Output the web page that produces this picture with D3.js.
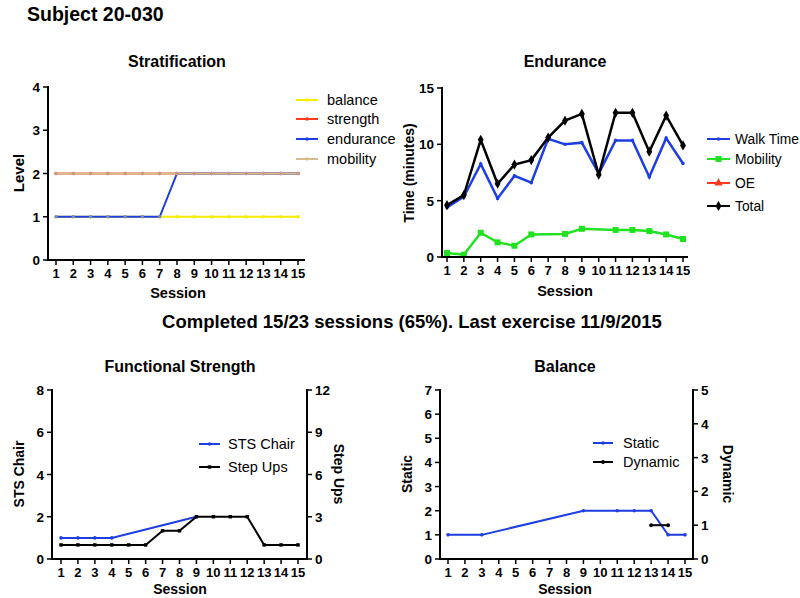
<!DOCTYPE html>
<html><head><meta charset="utf-8">
<script src="https://cdn.jsdelivr.net/npm/d3@7"></script>
<style>body{margin:0;background:#fff}svg{display:block;font-family:"Liberation Sans",Arial,sans-serif}</style>
</head><body><svg id="c" width="800" height="598"></svg>
<script>
const sessions = d3.range(1, 16);
// Stratification levels
const stratBalance   = [1,1,1,1,1,1,1,1,1,1,1,1,1,1,1];
const stratStrength  = [2,2,2,2,2,2,2,2,2,2,2,2,2,2,2];
const stratEndurance = [1,1,1,1,1,1,1,2,2,2,2,2,2,2,2];
const stratMobility  = [2,2,2,2,2,2,2,2,2,2,2,2,2,2,2];
// Endurance (minutes)
const walkTime = [4.4,5.35,8.25,5.2,7.2,6.6,10.5,10.0,10.15,7.4,10.35,10.35,7.1,10.55,8.3];
const mobilityTime = [0.35,0.2,2.15,1.3,1.0,2.0,null,2.05,2.5,null,2.4,2.4,2.3,2.0,1.6];
const oeTime = [null,null,null,null,null,null,null,null,null,null,null,null,null,null,null];
const totalTime = [4.6,5.5,10.4,6.5,8.2,8.6,10.6,12.1,12.7,7.3,12.8,12.8,9.35,12.55,9.9];
// Functional strength
const stsChair = [1,1,1,1,null,null,null,null,2,null,null,null,null,null,null];
const stepUps  = [1,1,1,1,1,1,2,2,3,3,3,3,1,1,1];
// Balance
const staticBal  = [1,null,1,null,null,null,null,null,2,null,2,2,2,1,1];
const dynamicBal = [null,null,null,null,null,null,null,null,null,null,null,null,1,1,null];

const svg = d3.select("#c");
const txt = (x,y,s,size,weight,anchor,rot) => {
  const t = svg.append("text").attr("x",x).attr("y",y).text(s)
    .attr("font-size",size).attr("font-weight",weight||"normal")
    .attr("text-anchor",anchor||"start").attr("fill","#000");
  if (rot) t.attr("transform",`rotate(${rot},${x},${y})`);
  return t;
};

txt(27,21,"Subject 20-030",19.5,"bold");
txt(412,328,"Completed 15/23 sessions (65%). Last exercise 11/9/2015",18.5,"bold","middle");

function xAxis(x, yBot, axLeft, axRight){
  const g = svg.append("g");
  g.append("line").attr("x1",axLeft).attr("x2",axRight).attr("y1",yBot).attr("y2",yBot).attr("stroke","#000").attr("stroke-width",2);
  sessions.forEach(s=>{
    g.append("line").attr("x1",x(s)).attr("x2",x(s)).attr("y1",yBot).attr("y2",yBot+5).attr("stroke","#000").attr("stroke-width",1.5);
    g.append("text").attr("x",x(s)).attr("y",yBot+18).attr("text-anchor","middle").attr("font-size",13).attr("font-weight","bold").text(s);
  });
}
function yAxis(y, ax, ticks, yTop, yBot, right){
  const g = svg.append("g");
  g.append("line").attr("x1",ax).attr("x2",ax).attr("y1",yTop-1).attr("y2",yBot+1).attr("stroke","#000").attr("stroke-width",2);
  ticks.forEach(v=>{
    const d = right?5:-5;
    g.append("line").attr("x1",ax).attr("x2",ax+d).attr("y1",y(v)).attr("y2",y(v)).attr("stroke","#000").attr("stroke-width",1.5);
    g.append("text").attr("x",ax+(right?8:-8)).attr("y",y(v)+5).attr("text-anchor",right?"start":"end")
      .attr("font-size",13.5).attr("font-weight","bold").text(v);
  });
}
function series(x,y,vals,color,width,marker,msize,mcolor){
  const pts = vals.map((v,i)=>({s:sessions[i],v})).filter(d=>d.v!=null);
  svg.append("path").datum(pts).attr("fill","none").attr("stroke",color).attr("stroke-width",width)
    .attr("d",d3.line().x(d=>x(d.s)).y(d=>y(d.v)));
  const sym = d3.symbol().type(marker).size(msize);
  svg.selectAll(null).data(pts).enter().append("path").attr("d",sym)
    .attr("transform",d=>`translate(${x(d.s)},${y(d.v)})`).attr("fill",mcolor||color);
}
function legend(items, x1, x2, tx, ys, size){
  items.forEach((it,i)=>{
    svg.append("line").attr("x1",x1).attr("x2",x2).attr("y1",ys[i]).attr("y2",ys[i]).attr("stroke",it.c).attr("stroke-width",2);
    svg.append("path").attr("d",d3.symbol().type(it.m).size(it.ms)()).attr("transform",`translate(${(x1+x2)/2},${ys[i]})`).attr("fill",it.mc||it.c);
    txt(tx,ys[i]+5,it.t,size||14);
  });
}

// Panel 1: Stratification
{
  const x = d3.scaleLinear().domain([1,15]).range([56,298]);
  const y = d3.scaleLinear().domain([0,4]).range([260,87]);
  txt(177,67,"Stratification",16,"bold","middle");
  series(x,y,stratBalance,"#f5ec00",2,d3.symbolCircle,10);
  series(x,y,stratStrength,"#ff3a1f",2,d3.symbolCircle,10);
  series(x,y,stratEndurance,"#1d3ee0",2,d3.symbolCircle,10,"#7d8ab8");
  series(x,y,stratMobility,"#d6bd8c",2,d3.symbolCircle,10,"#c9998a");
  yAxis(y,48,[0,1,2,3,4],87,260,false);
  xAxis(x,260,48,305);
  txt(178,298,"Session",14.5,"bold","middle");
  txt(24,173,"Level",15,"bold","middle",-90);
  legend([{t:"balance",c:"#f5ec00",m:d3.symbolCircle,ms:10},{t:"strength",c:"#ff3a1f",m:d3.symbolCircle,ms:10},
          {t:"endurance",c:"#1d3ee0",m:d3.symbolCircle,ms:10},{t:"mobility",c:"#d6bd8c",m:d3.symbolCircle,ms:10}],
         296,318,327,[100,119,139,159],14.5);
}
// Panel 2: Endurance
{
  const x = d3.scaleLinear().domain([1,15]).range([447,683]);
  const y = d3.scaleLinear().domain([0,15]).range([257,88]);
  txt(565,67,"Endurance",16,"bold","middle");
  series(x,y,oeTime,"#ff3a1f",2.5,d3.symbolTriangle,30);
  series(x,y,mobilityTime,"#21e221",2.5,d3.symbolSquare,36);
  series(x,y,walkTime,"#1d3ee0",2.5,d3.symbolCircle,10);
  series(x,y,totalTime,"#000",2.5,d3.symbolDiamond,30);
  yAxis(y,442,[0,5,10,15],88,257,false);
  xAxis(x,257,442,688);
  txt(565,296,"Session",14.5,"bold","middle");
  txt(414,173,"Time (minutes)",14,"bold","middle",-90);
  legend([{t:"Walk Time",c:"#1d3ee0",m:d3.symbolCircle,ms:10},{t:"Mobility",c:"#21e221",m:d3.symbolSquare,ms:36},
          {t:"OE",c:"#ff3a1f",m:d3.symbolTriangle,ms:30},{t:"Total",c:"#000",m:d3.symbolDiamond,ms:30}],
         707,730,735,[139,159,183,206],13.8);
}
// Panel 3: Functional Strength
{
  const x = d3.scaleLinear().domain([1,15]).range([61,298]);
  const y = d3.scaleLinear().domain([0,8]).range([559,390]);
  const y2 = d3.scaleLinear().domain([0,12]).range([559,390]);
  txt(180,372,"Functional Strength",16,"bold","middle");
  series(x,y,stsChair,"#1d3ee0",2,d3.symbolCircle,10);
  series(x,y2,stepUps,"#000",2,d3.symbolSquare,12);
  yAxis(y,52,[0,2,4,6,8],390,559,false);
  yAxis(y2,307,[0,3,6,9,12],390,559,true);
  xAxis(x,559,52,307);
  txt(180,594,"Session",14,"bold","middle");
  txt(24,474,"STS Chair",14,"bold","middle",-90);
  txt(334,474,"Step Ups",14,"bold","middle",90);
  legend([{t:"STS Chair",c:"#1d3ee0",m:d3.symbolCircle,ms:10},{t:"Step Ups",c:"#000",m:d3.symbolSquare,ms:12}],
         199,220,228,[444,467],14.5);
}
// Panel 4: Balance
{
  const x = d3.scaleLinear().domain([1,15]).range([448,685]);
  const y = d3.scaleLinear().domain([0,7]).range([559,390]);
  const y2 = d3.scaleLinear().domain([0,5]).range([559,390]);
  txt(565,372,"Balance",16,"bold","middle");
  series(x,y,staticBal,"#1d3ee0",2,d3.symbolCircle,10);
  series(x,y2,dynamicBal,"#000",2,d3.symbolCircle,12);
  yAxis(y,440,[0,1,2,3,4,5,6,7],390,559,false);
  yAxis(y2,693,[0,1,2,3,4,5],390,559,true);
  xAxis(x,559,440,693);
  txt(565,594,"Session",14,"bold","middle");
  txt(412,474,"Static",14,"bold","middle",-90);
  txt(723,474,"Dynamic",14,"bold","middle",90);
  legend([{t:"Static",c:"#1d3ee0",m:d3.symbolCircle,ms:10},{t:"Dynamic",c:"#000",m:d3.symbolCircle,ms:12}],
         593,613,623,[443,462],14.5);
}
</script></body></html>
